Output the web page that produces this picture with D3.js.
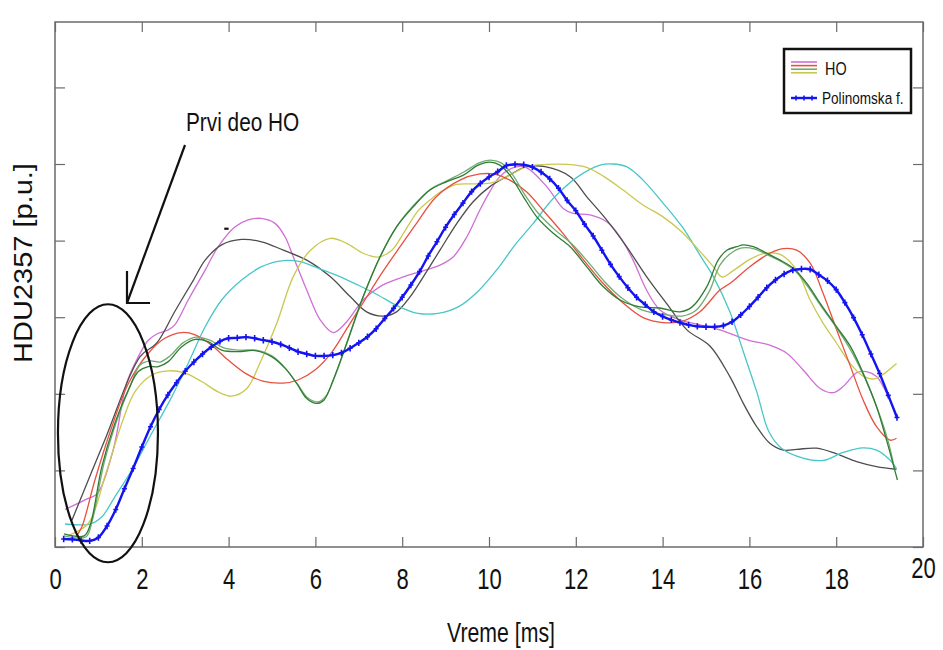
<!DOCTYPE html>
<html>
<head>
<meta charset="utf-8">
<script src="https://cdn.jsdelivr.net/npm/d3@7"></script>
<style>
  body { margin: 0; background: #fff; }
  svg { display: block; font-family: "Liberation Sans", Arial, sans-serif; }
</style>
</head>
<body>
<svg id="chart" width="943" height="650"></svg>
<script>
// Axis ticks (time in ms, HDU in per-unit)
const xTicks = [0, 2, 4, 6, 8, 10, 12, 14, 16, 18, 20];
const yTicks = [0, 0.2, 0.4, 0.6, 0.8, 1.0, 1.2];

// HO recordings: [time ms, value p.u.]
const hoMagenta = [[0.23,0.098],[0.73,0.125],[0.98,0.140],[1.34,0.253],[1.65,0.428],[1.92,0.497],[2.15,0.540],[2.38,0.558],[2.61,0.567],[2.76,0.580],[3.07,0.645],[3.46,0.723],[3.76,0.784],[4.15,0.836],[4.45,0.854],[4.75,0.858],[5.07,0.845],[5.30,0.810],[5.49,0.758],[5.80,0.671],[6.11,0.593],[6.41,0.560],[6.72,0.588],[7.10,0.645],[7.49,0.680],[7.95,0.702],[8.41,0.719],[8.87,0.736],[9.18,0.758],[9.49,0.810],[9.79,0.880],[10.02,0.928],[10.25,0.967],[10.60,0.992],[10.87,0.990],[11.33,0.941],[11.71,0.884],[11.94,0.871],[12.33,0.867],[12.71,0.849],[13.02,0.810],[13.32,0.749],[13.63,0.671],[13.94,0.619],[14.40,0.593],[14.86,0.580],[15.32,0.567],[16.01,0.539],[16.47,0.527],[16.86,0.506],[17.24,0.462],[17.63,0.414],[17.93,0.403],[18.16,0.419],[18.47,0.455],[18.70,0.458],[18.93,0.445],[19.10,0.415],[19.40,0.342]];
const hoGray = [[0.39,0.070],[1.15,0.280],[1.96,0.497],[2.34,0.532],[2.76,0.615],[3.19,0.697],[3.46,0.749],[3.84,0.789],[4.30,0.803],[4.76,0.797],[5.26,0.775],[5.80,0.749],[6.34,0.706],[6.80,0.654],[7.18,0.614],[7.56,0.603],[7.87,0.614],[8.18,0.653],[8.49,0.706],[8.87,0.775],[9.26,0.845],[9.64,0.902],[10.02,0.941],[10.41,0.967],[10.87,0.993],[11.29,0.993],[11.87,0.967],[12.25,0.915],[12.71,0.854],[13.17,0.784],[13.63,0.706],[14.09,0.636],[14.56,0.567],[15.09,0.525],[15.55,0.445],[15.86,0.375],[16.17,0.314],[16.47,0.271],[16.78,0.253],[17.09,0.255],[17.55,0.258],[18.01,0.243],[18.47,0.223],[18.93,0.210],[19.39,0.203]];
const hoCyan = [[0.23,0.060],[0.81,0.060],[1.08,0.079],[1.38,0.131],[1.77,0.201],[2.23,0.297],[2.69,0.392],[3.07,0.480],[3.46,0.575],[3.84,0.645],[4.30,0.697],[4.76,0.732],[5.26,0.748],[5.65,0.745],[6.06,0.728],[6.52,0.708],[6.98,0.684],[7.44,0.658],[7.90,0.629],[8.36,0.610],[8.82,0.610],[9.29,0.627],[9.75,0.668],[10.21,0.728],[10.60,0.789],[11.02,0.845],[11.48,0.910],[12.05,0.967],[12.56,0.997],[12.86,1.000],[13.17,0.993],[13.55,0.958],[14.01,0.898],[14.47,0.833],[14.86,0.762],[15.17,0.706],[15.55,0.614],[15.86,0.510],[16.17,0.405],[16.45,0.301],[16.74,0.258],[17.24,0.232],[17.70,0.226],[18.16,0.247],[18.62,0.259],[18.93,0.253],[19.24,0.227],[19.39,0.205]];
const hoYellow = [[0.30,0.030],[0.77,0.062],[1.15,0.184],[1.54,0.323],[1.84,0.405],[2.23,0.449],[2.61,0.460],[3.00,0.454],[3.38,0.432],[3.76,0.405],[4.07,0.394],[4.42,0.414],[4.72,0.480],[5.11,0.584],[5.49,0.706],[5.88,0.774],[6.34,0.806],[6.72,0.793],[7.10,0.767],[7.44,0.757],[7.76,0.775],[8.06,0.825],[8.36,0.877],[8.64,0.906],[8.95,0.932],[9.26,0.947],[9.64,0.948],[10.02,0.950],[10.41,0.967],[10.87,0.993],[11.33,0.999],[11.79,0.999],[12.25,0.991],[12.65,0.967],[13.09,0.932],[13.55,0.893],[14.01,0.862],[14.45,0.822],[14.86,0.772],[15.17,0.732],[15.37,0.705],[15.62,0.721],[16.01,0.751],[16.36,0.767],[16.71,0.764],[17.09,0.723],[17.40,0.645],[17.70,0.584],[18.01,0.532],[18.33,0.478],[18.62,0.446],[18.89,0.439],[19.12,0.454],[19.39,0.479]];
const hoRed = [[0.48,0.026],[0.62,0.053],[0.92,0.175],[1.31,0.314],[1.69,0.427],[2.15,0.506],[2.53,0.545],[2.92,0.560],[3.23,0.554],[3.61,0.527],[3.99,0.488],[4.38,0.454],[4.79,0.433],[5.26,0.428],[5.60,0.436],[5.99,0.462],[6.38,0.509],[6.75,0.575],[7.14,0.645],[7.53,0.715],[7.95,0.784],[8.33,0.845],[8.78,0.914],[9.33,0.958],[9.79,0.974],[10.14,0.973],[10.48,0.958],[10.87,0.927],[11.24,0.880],[11.68,0.822],[12.14,0.755],[12.60,0.692],[13.09,0.637],[13.55,0.599],[14.01,0.586],[14.47,0.590],[14.86,0.614],[15.32,0.671],[15.55,0.688],[16.01,0.732],[16.47,0.767],[16.78,0.779],[17.09,0.775],[17.40,0.741],[17.70,0.662],[18.01,0.567],[18.33,0.471],[18.62,0.384],[18.93,0.314],[19.24,0.279],[19.39,0.284]];
const hoGreen = [[0.21,0.034],[0.67,0.029],[0.81,0.057],[1.08,0.210],[1.38,0.323],[1.69,0.410],[1.92,0.458],[2.15,0.471],[2.38,0.471],[2.61,0.484],[2.92,0.523],[3.23,0.542],[3.53,0.536],[3.84,0.514],[4.22,0.510],[4.61,0.513],[4.99,0.497],[5.30,0.467],[5.57,0.427],[5.80,0.388],[6.03,0.375],[6.20,0.384],[6.41,0.436],[6.72,0.532],[7.10,0.654],[7.49,0.758],[7.87,0.836],[8.26,0.889],[8.64,0.932],[9.03,0.954],[9.41,0.971],[9.75,0.997],[10.02,1.005],[10.25,0.997],[10.48,0.971],[10.79,0.915],[11.10,0.862],[11.48,0.819],[11.87,0.784],[12.25,0.732],[12.63,0.680],[13.02,0.645],[13.48,0.627],[13.94,0.624],[14.40,0.614],[14.68,0.627],[15.02,0.680],[15.28,0.749],[15.48,0.775],[15.71,0.784],[15.86,0.789],[16.09,0.784],[16.40,0.767],[16.71,0.749],[17.01,0.728],[17.32,0.689],[17.63,0.636],[18.01,0.575],[18.33,0.523],[18.62,0.454],[18.93,0.366],[19.16,0.279],[19.41,0.175]];
const hoLightGreen = [[0.21,0.029],[0.71,0.026],[0.85,0.065],[1.13,0.219],[1.43,0.332],[1.73,0.420],[1.96,0.475],[2.19,0.486],[2.42,0.483],[2.65,0.499],[2.95,0.533],[3.25,0.548],[3.57,0.540],[3.89,0.520],[4.26,0.514],[4.63,0.514],[5.00,0.499],[5.32,0.465],[5.60,0.423],[5.83,0.389],[6.06,0.379],[6.24,0.394],[6.45,0.446],[6.75,0.540],[7.12,0.658],[7.51,0.762],[7.90,0.841],[8.27,0.893],[8.66,0.935],[9.06,0.958],[9.42,0.979],[9.77,1.003],[10.02,1.010],[10.28,1.003],[10.53,0.974],[10.83,0.919],[11.13,0.872],[11.52,0.828],[11.91,0.791],[12.30,0.742],[12.67,0.692],[13.06,0.650],[13.52,0.619],[13.99,0.608],[14.45,0.603],[14.75,0.616],[15.07,0.666],[15.32,0.736],[15.55,0.765],[15.83,0.781],[16.13,0.778],[16.43,0.762],[16.75,0.744],[17.05,0.721],[17.35,0.679],[17.65,0.629],[18.04,0.567],[18.36,0.509],[18.66,0.441],[18.96,0.358],[19.19,0.279],[19.35,0.201]];

// Polynomial fit (one point per plotted marker)
const polyFit = [[0.2,0.021],[0.4,0.020],[0.6,0.017],[0.8,0.016],[1.0,0.025],[1.2,0.055],[1.4,0.098],[1.6,0.152],[1.8,0.205],[2.0,0.261],[2.2,0.314],[2.4,0.359],[2.6,0.397],[2.8,0.429],[3.0,0.459],[3.2,0.483],[3.4,0.504],[3.6,0.522],[3.8,0.537],[4.0,0.545],[4.2,0.546],[4.4,0.548],[4.6,0.545],[4.8,0.540],[5.0,0.536],[5.2,0.529],[5.4,0.520],[5.6,0.510],[5.8,0.504],[6.0,0.499],[6.2,0.499],[6.4,0.501],[6.6,0.507],[6.8,0.519],[7.0,0.533],[7.2,0.549],[7.4,0.570],[7.6,0.597],[7.8,0.623],[8.0,0.652],[8.2,0.684],[8.4,0.719],[8.6,0.760],[8.8,0.797],[9.0,0.835],[9.2,0.868],[9.4,0.898],[9.6,0.928],[9.8,0.949],[10.0,0.966],[10.2,0.980],[10.4,0.996],[10.6,0.999],[10.8,0.998],[11.0,0.992],[11.2,0.979],[11.4,0.961],[11.6,0.937],[11.8,0.905],[12.0,0.878],[12.2,0.843],[12.4,0.812],[12.6,0.775],[12.8,0.738],[13.0,0.706],[13.2,0.677],[13.4,0.652],[13.6,0.633],[13.8,0.614],[14.0,0.602],[14.2,0.593],[14.4,0.586],[14.6,0.580],[14.8,0.576],[15.0,0.575],[15.2,0.575],[15.4,0.578],[15.6,0.588],[15.8,0.606],[16.0,0.628],[16.2,0.652],[16.4,0.677],[16.6,0.697],[16.8,0.713],[17.0,0.723],[17.2,0.726],[17.4,0.725],[17.6,0.711],[17.8,0.695],[18.0,0.672],[18.2,0.638],[18.4,0.599],[18.6,0.554],[18.8,0.504],[19.0,0.453],[19.2,0.396],[19.4,0.338]];

const hoSeries = [
  { name: "magenta", values: hoMagenta, color: "#cf6fd6" },
  { name: "gray", values: hoGray, color: "#4d4d4d" },
  { name: "cyan", values: hoCyan, color: "#48c6c8" },
  { name: "yellow", values: hoYellow, color: "#c9c84f" },
  { name: "red", values: hoRed, color: "#e8503f" },
  { name: "lightgreen", values: hoLightGreen, color: "#72ab72" },
  { name: "green", values: hoGreen, color: "#2f7d34" }
];

const svg = d3.select("#chart");
const plot = { left: 55, right: 923, top: 22, bottom: 547 };

const x = d3.scaleLinear().domain([0, 20]).range([plot.left, plot.right]);
const y = d3.scaleLinear().domain([0, 1.3708]).range([plot.bottom, plot.top]);

const sx = 0.76; // narrow lettering

// Tick marks pointing into the frame on all four sides
const axisStyle = g => {
  g.select(".domain").remove();
  g.selectAll(".tick line").attr("stroke", "#6b6b6b").attr("stroke-width", 1.2);
};
svg.append("g").attr("transform", `translate(0,${plot.bottom})`)
  .call(d3.axisBottom(x).tickValues(xTicks).tickSizeInner(-10).tickSizeOuter(0).tickFormat(d3.format("d")))
  .call(axisStyle)
  .call(g => g.selectAll(".tick text")
    .attr("y", null).attr("dy", null)
    .attr("transform", d => `translate(0,${d === 20 ? 31 : 42}) scale(${sx},1)`)
    .attr("font-size", 29).attr("fill", "#111")
    .attr("font-family", "'Liberation Sans', Arial, sans-serif"));
svg.append("g").attr("transform", `translate(0,${plot.top})`)
  .call(d3.axisTop(x).tickValues(xTicks).tickSizeInner(-10).tickSizeOuter(0).tickFormat(""))
  .call(axisStyle);
svg.append("g").attr("transform", `translate(${plot.left},0)`)
  .call(d3.axisLeft(y).tickValues(yTicks).tickSizeInner(-10).tickSizeOuter(0).tickFormat(""))
  .call(axisStyle);
svg.append("g").attr("transform", `translate(${plot.right},0)`)
  .call(d3.axisRight(y).tickValues(yTicks).tickSizeInner(-10).tickSizeOuter(0).tickFormat(""))
  .call(axisStyle);

svg.append("rect")
  .attr("x", plot.left).attr("y", plot.top)
  .attr("width", plot.right - plot.left).attr("height", plot.bottom - plot.top)
  .attr("fill", "none").attr("stroke", "#6b6b6b").attr("stroke-width", 1.5);

// Curves
const line = d3.line().x(d => x(d[0])).y(d => y(d[1])).curve(d3.curveCatmullRom.alpha(0.5));
const curves = svg.append("g");
hoSeries.forEach(s => {
  curves.append("path").datum(s.values)
    .attr("d", line).attr("fill", "none")
    .attr("stroke", s.color).attr("stroke-width", 1.3);
});

curves.append("path").datum(polyFit)
  .attr("d", line).attr("fill", "none")
  .attr("stroke", "#1414f0").attr("stroke-width", 2.4);
curves.append("g").selectAll("path").data(polyFit).join("path")
  .attr("transform", d => `translate(${x(d[0])},${y(d[1])})`)
  .attr("d", "M-2.5,0H2.5M0,-3.2V3.2")
  .attr("stroke", "#1414f0").attr("stroke-width", 1.6);

// Small stray dash above the early HO peaks
svg.append("line").attr("x1", x(3.9)).attr("x2", x(4.0))
  .attr("y1", y(0.831)).attr("y2", y(0.831))
  .attr("stroke", "#111").attr("stroke-width", 2.2);

// Annotation: ellipse around the first part of HO, arrow and caption
const annot = svg.append("g").attr("stroke", "#111").attr("fill", "none").attr("stroke-width", 2.2);
annot.append("ellipse")
  .attr("cx", x(1.22)).attr("cy", y(0.297))
  .attr("rx", 50).attr("ry", 129);
annot.append("line")
  .attr("x1", 185).attr("y1", 145).attr("x2", 127).attr("y2", 303);
annot.append("path")
  .attr("d", "M127,271V303H150");

svg.append("text")
  .attr("transform", `translate(186,131) scale(0.8,1)`)
  .attr("font-size", 26).attr("fill", "#111")
  .text("Prvi deo HO");

// Axis titles
svg.append("text")
  .attr("transform", `translate(501,642) scale(${sx},1)`)
  .attr("text-anchor", "middle").attr("font-size", 28).attr("fill", "#111")
  .text("Vreme [ms]");
svg.append("text")
  .attr("transform", `translate(32,263) rotate(-90) scale(1,0.88)`)
  .attr("text-anchor", "middle").attr("font-size", 29).attr("fill", "#111")
  .text("HDU2357 [p.u.]");

// Legend
const lg = svg.append("g");
lg.append("rect").attr("x", 784).attr("y", 49).attr("width", 127).attr("height", 64)
  .attr("fill", "#fff").attr("stroke", "#111").attr("stroke-width", 2.5);
const legendHO = [hoSeries[0], hoSeries[4], hoSeries[5], hoSeries[3]];
legendHO.forEach((s, i) => {
  lg.append("line").attr("x1", 791).attr("x2", 817)
    .attr("y1", 62 + i * 3.6).attr("y2", 62 + i * 3.6)
    .attr("stroke", s.color).attr("stroke-width", 1.6);
});
lg.append("text").attr("transform", `translate(825,75) scale(0.8,1)`)
  .attr("font-size", 18).attr("fill", "#111").text("HO");
lg.append("line").attr("x1", 791).attr("x2", 817).attr("y1", 98).attr("y2", 98)
  .attr("stroke", "#1414f0").attr("stroke-width", 2.4);
[796, 804, 812].forEach(px => {
  lg.append("path").attr("transform", `translate(${px},98)`)
    .attr("d", "M0,-2.5V2.5").attr("stroke", "#1414f0").attr("stroke-width", 1.6);
});
lg.append("text").attr("transform", `translate(822,104) scale(0.8,1)`)
  .attr("font-size", 17).attr("fill", "#111").text("Polinomska f.");
</script>
</body>
</html>
